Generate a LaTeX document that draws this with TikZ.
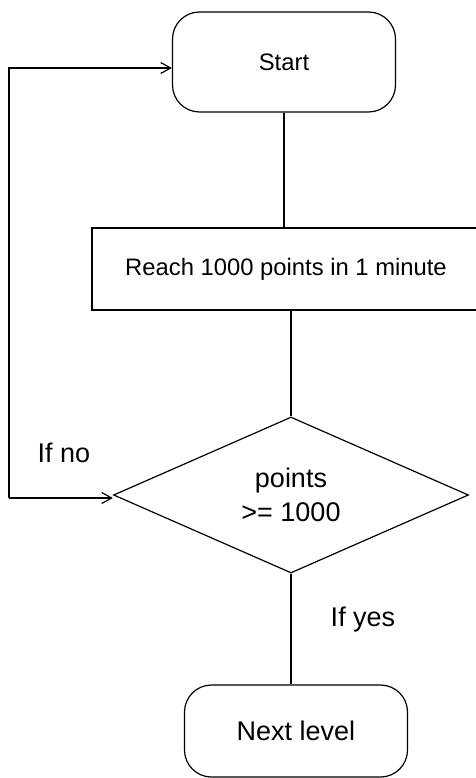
\documentclass[tikz,border=0pt]{standalone}
\usepackage{fontspec}
\setmainfont{Liberation Sans}
\usetikzlibrary{shapes.geometric,arrows.meta}
\begin{document}
\begin{tikzpicture}[x=1pt,y=-1pt,
  line width=1.2pt,
  smallfont/.style={font=\fontsize{23.8}{28}\selectfont},
  bigfont/.style={font=\fontsize{27}{34}\selectfont},
  termbox/.style={draw,rounded corners=27pt,inner sep=0pt,minimum width=223pt},
  procbox/.style={draw,inner sep=0pt,minimum width=388pt,minimum height=82pt},
  decbox/.style={draw,diamond,inner sep=0pt,minimum width=355pt,minimum height=156pt},
  arr/.style={-{Straight Barb[length=10pt,width=11pt,line width=1.2pt]}},
  lbl/.style={inner sep=0pt}
]
\useasboundingbox (0,0) rectangle (475,778);
\node[termbox,smallfont,minimum height=100pt] (start) at (284,62) {Start};
\node[procbox,smallfont] (reach) at (286,269) {Reach 1000 points in 1 minute};
\node[decbox,bigfont,align=center] (dec) at (291,495) {points\\>= 1000};
\node[termbox,bigfont,minimum height=92pt] (next) at (296,731) {Next level};
\coordinate (ctop) at (9,68);
\coordinate (cbot) at (9,498);
\node[lbl,bigfont] (ifno) at (64,453) {If no};
\node[lbl,bigfont] (ifyes) at (363,620) {If yes};
\draw (start.south) -- (start.south |- reach.north);
\draw (reach.south -| dec.north) -- (dec.north);
\draw (dec.south) -- (dec.south |- next.north);
\draw[arr] (cbot) -- (dec.west |- cbot);
\draw[arr] (cbot) -- (ctop) -- (start.west |- ctop);
\end{tikzpicture}
\end{document}
